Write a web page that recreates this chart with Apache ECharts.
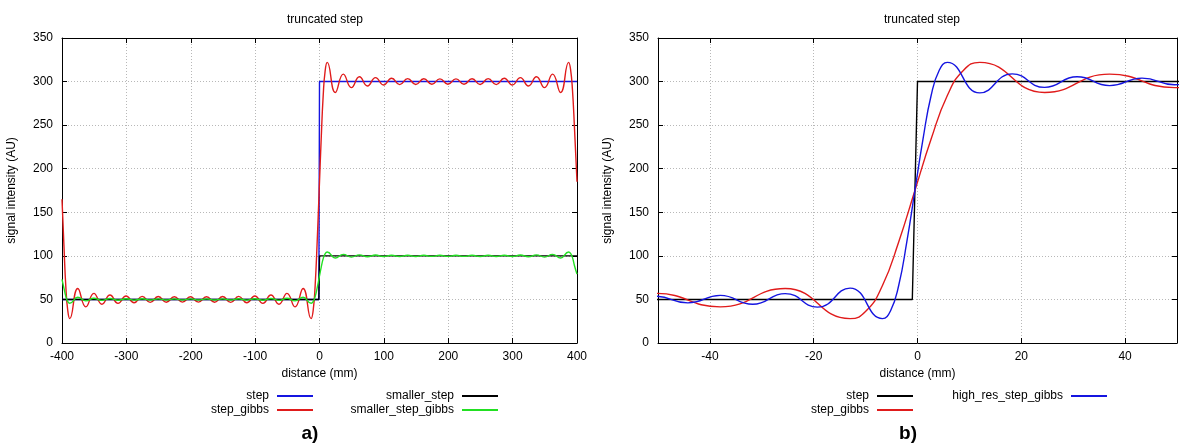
<!DOCTYPE html>
<html>
<head>
<meta charset="utf-8">
<script src="https://cdn.jsdelivr.net/npm/echarts@6/dist/echarts.min.js"></script>
<style>
html,body{margin:0;padding:0;background:#fff;}
#chart{width:1200px;height:443px;}
</style>
</head>
<body>
<div id="chart"></div>
<script>
// ---------- data ----------
const yTicks = [0, 50, 100, 150, 200, 250, 300, 350];
const xTicksA = [-400, -300, -200, -100, 0, 100, 200, 300, 400];
const xTicksB = [-40, -20, 0, 20, 40];

// left plot (a)
const stepData = [[-400, 50], [-1, 50], [0, 300], [400, 300]];
const smallerStepData = [[-400, 50], [-1, 50], [0, 100], [400, 100]];

const stepGibbsData = [
  [-400, 165], [-397, 112], [-394, 64], [-391, 37],
  [-388, 28], [-375.5, 62.5], [-363, 41.5], [-350.5, 57], [-338, 44.5], [-325.5, 55],
  [-313, 45.5], [-300.5, 54], [-288, 46.2], [-275.5, 53.5], [-263, 46.6], [-250.5, 53.3],
  [-238, 46.8], [-225.5, 53.1], [-213, 46.9], [-200.5, 53], [-188, 46.9], [-175.5, 53.1],
  [-163, 46.8], [-150.5, 53.3], [-138, 46.6], [-125.5, 53.5], [-113, 46.2], [-100.5, 54],
  [-88, 45.5], [-75.5, 55], [-63, 44.5], [-50.5, 57], [-38, 41.5], [-25.5, 62.5], [-13, 28],
  [-9.875, 37], [-6.75, 66], [-3.625, 116], [-0.5, 175], [2.625, 234], [5.75, 284], [8.875, 313],
  [12, 322], [24.5, 287.5], [37, 308.5], [49.5, 293], [62, 305.5], [74.5, 295], [87, 304.5],
  [99.5, 296], [112, 303.8], [124.5, 296.5], [137, 303.4], [149.5, 296.7], [162, 303.2],
  [174.5, 296.9], [187, 303.1], [199.5, 297], [212, 303.1], [224.5, 296.9], [237, 303.2],
  [249.5, 296.7], [262, 303.4], [274.5, 296.5], [287, 303.8], [299.5, 296], [312, 304.5],
  [324.5, 295], [337, 305.5], [349.5, 293], [362, 308.5], [374.5, 287.5], [387, 322],
  [390, 314], [393, 290], [396, 248], [400, 185]
];

const smallerStepGibbsData = [
  [-400, 73], [-397, 63], [-394, 53.5], [-391, 47.4],
  [-388, 45.6], [-375.5, 52.5], [-363, 48.3], [-350.5, 51.4], [-338, 48.9], [-325.5, 51],
  [-313, 49.1], [-300.5, 50.8], [-288, 49.2], [-275.5, 50.7], [-263, 49.3], [-250.5, 50.66],
  [-238, 49.4], [-225.5, 50.62], [-213, 49.4], [-200.5, 50.6], [-188, 49.4], [-175.5, 50.62],
  [-163, 49.4], [-150.5, 50.66], [-138, 49.3], [-125.5, 50.7], [-113, 49.2], [-100.5, 50.8],
  [-88, 49.1], [-75.5, 51], [-63, 48.9], [-50.5, 51.4], [-38, 48.3], [-25.5, 52.5], [-13, 45.6],
  [-9.875, 47.4], [-6.75, 53.2], [-3.625, 63.2], [-0.5, 75], [2.625, 86.8], [5.75, 96.8], [8.875, 102.6],
  [12, 104.4], [24.5, 97.5], [37, 101.7], [49.5, 98.6], [62, 101.1], [74.5, 99], [87, 100.9],
  [99.5, 99.2], [112, 100.76], [124.5, 99.3], [137, 100.68], [149.5, 99.34], [162, 100.64],
  [174.5, 99.38], [187, 100.62], [199.5, 99.4], [212, 100.62], [224.5, 99.38], [237, 100.64],
  [249.5, 99.34], [262, 100.68], [274.5, 99.3], [287, 100.76], [299.5, 99.2], [312, 100.9],
  [324.5, 99], [337, 101.1], [349.5, 98.6], [362, 101.7], [374.5, 97.5], [387, 104.4],
  [390, 102.8], [393, 98], [396, 89], [400, 79]
];

// right plot (b)
const highResStepGibbsData = [
  [-56.75, 46.7], [-50.5, 53.6], [-44.25, 46], [-38, 54.6], [-31.75, 44.5], [-25.5, 56.7],
  [-19.25, 41.2], [-13, 63], [-6.75, 28],
  [-5.19, 37], [-3.625, 66], [-2.06, 116], [-0.5, 175], [1.06, 234], [2.625, 284], [4.19, 313],
  [5.75, 322], [12, 287], [18.25, 308.8], [24.5, 293.3], [30.75, 305.5], [37, 295.4],
  [43.25, 304], [49.5, 296.4], [55.75, 303.3]
];

// ---------- styles ----------
const FONT = 'Liberation Sans';
const C_BLUE = '#1515e0';
const C_RED = '#e01b1b';
const C_GREEN = '#22e022';
const C_BLACK = '#000000';

function bottomX(grid, min, max, interval, custom) {
  const ax = {
    type: 'value', gridIndex: grid, min: min, max: max, position: 'bottom',
    name: 'distance (mm)', nameLocation: 'middle', nameGap: 25,
    nameTextStyle: { fontFamily: FONT, fontSize: 12, color: '#000' },
    axisLine: { show: true, onZero: false, lineStyle: { color: '#000', width: 1 } },
    axisTick: { show: true, inside: true, length: 5, lineStyle: { color: '#000' } },
    axisLabel: { show: true, margin: 8, fontFamily: FONT, fontSize: 12, color: '#000' },
    splitLine: { show: true, lineStyle: { color: '#b8b8b8', type: [1, 2], width: 1 } }
  };
  if (interval) ax.interval = interval;
  if (custom) {
    ax.axisLabel.customValues = custom;
    ax.axisTick.customValues = custom;
  }
  return ax;
}
function topX(grid, min, max, interval, custom) {
  const ax = {
    type: 'value', gridIndex: grid, min: min, max: max, position: 'top',
    axisLine: { show: true, onZero: false, lineStyle: { color: '#000', width: 1 } },
    axisTick: { show: true, inside: true, length: 5, lineStyle: { color: '#000' } },
    axisLabel: { show: false },
    splitLine: { show: false }
  };
  if (interval) ax.interval = interval;
  if (custom) {
    ax.axisLabel.customValues = custom;
    ax.axisTick.customValues = custom;
  }
  return ax;
}
function leftY(grid) {
  return {
    type: 'value', gridIndex: grid, min: yTicks[0], max: yTicks[yTicks.length - 1], interval: 50,
    position: 'left',
    name: 'signal intensity (AU)', nameLocation: 'middle', nameGap: 44,
    nameTextStyle: { fontFamily: FONT, fontSize: 12, color: '#000' },
    axisLine: { show: true, onZero: false, lineStyle: { color: '#000', width: 1 } },
    axisTick: { show: true, inside: true, length: 5, lineStyle: { color: '#000' } },
    axisLabel: { show: true, margin: 9, fontFamily: FONT, fontSize: 12, color: '#000' },
    splitLine: { show: true, lineStyle: { color: '#b8b8b8', type: [1, 2], width: 1 } }
  };
}
function rightY(grid) {
  return {
    type: 'value', gridIndex: grid, min: yTicks[0], max: yTicks[yTicks.length - 1], interval: 50,
    position: 'right',
    axisLine: { show: true, onZero: false, lineStyle: { color: '#000', width: 1 } },
    axisTick: { show: true, inside: true, length: 5, lineStyle: { color: '#000' } },
    axisLabel: { show: false },
    splitLine: { show: false }
  };
}
function lineSeries(name, data, color, xi, yi, smooth) {
  return {
    name: name, type: 'line', data: data, xAxisIndex: xi, yAxisIndex: yi,
    showSymbol: false, symbol: 'none', smooth: smooth ? 0.5 : false,
    lineStyle: { color: color, width: 1.4 }, itemStyle: { color: color },
    animation: false, silent: true, clip: true
  };
}
function legendBox(right, items) {
  return {
    orient: 'vertical', right: right, top: 390, padding: 0, itemGap: 2, itemWidth: 36, itemHeight: 2,
    align: 'right', icon: 'rect', selectedMode: false,
    textStyle: { fontFamily: FONT, fontSize: 12, color: '#000', padding: [0, 3, 0, 0] },
    data: items.map(function (it) { return { name: it[0], itemStyle: { color: it[1] } }; })
  };
}

const chart = echarts.init(document.getElementById('chart'), null, { renderer: 'canvas' });
chart.setOption({
  backgroundColor: '#ffffff',
  animation: false,
  title: [
    { text: 'truncated step', left: 320, top: 9, textAlign: 'center',
      textStyle: { fontFamily: FONT, fontSize: 12, fontWeight: 'normal', color: '#000' } },
    { text: 'truncated step', left: 917, top: 9, textAlign: 'center',
      textStyle: { fontFamily: FONT, fontSize: 12, fontWeight: 'normal', color: '#000' } },
    { text: 'a)', left: 305, top: 419, textAlign: 'center',
      textStyle: { fontFamily: FONT, fontSize: 19, fontWeight: 'bold', color: '#000' } },
    { text: 'b)', left: 903, top: 419, textAlign: 'center',
      textStyle: { fontFamily: FONT, fontSize: 19, fontWeight: 'bold', color: '#000' } }
  ],
  grid: [
    { left: 62, right: 623, top: 38, bottom: 100 },
    { left: 658, right: 23, top: 38, bottom: 100 }
  ],
  xAxis: [
    bottomX(0, xTicksA[0], xTicksA[xTicksA.length - 1], 100, null),
    bottomX(1, -50, 50, null, xTicksB),
    topX(0, xTicksA[0], xTicksA[xTicksA.length - 1], 100, null),
    topX(1, -50, 50, null, xTicksB)
  ],
  yAxis: [leftY(0), leftY(1), rightY(0), rightY(1)],
  legend: [
    legendBox(887, [['step', C_BLUE], ['step_gibbs', C_RED]]),
    legendBox(702, [['smaller_step', C_BLACK], ['smaller_step_gibbs', C_GREEN]]),
    legendBox(287, [['step', C_BLACK], ['step_gibbs', C_RED]]),
    legendBox(93, [['high_res_step_gibbs', C_BLUE]])
  ],
  series: [
    lineSeries('step', stepData, C_BLUE, 0, 0, false),
    lineSeries('step_gibbs', stepGibbsData, C_RED, 0, 0, true),
    lineSeries('smaller_step', smallerStepData, C_BLACK, 0, 0, false),
    lineSeries('smaller_step_gibbs', smallerStepGibbsData, C_GREEN, 0, 0, true),
    lineSeries('step', stepData, C_BLACK, 1, 1, false),
    lineSeries('step_gibbs', stepGibbsData, C_RED, 1, 1, true),
    lineSeries('high_res_step_gibbs', highResStepGibbsData, C_BLUE, 1, 1, true)
  ]
});
</script>
</body>
</html>
